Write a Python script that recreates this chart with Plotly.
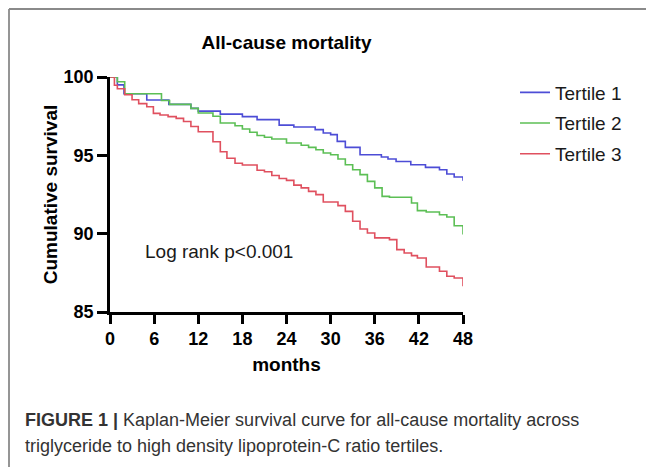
import plotly.graph_objects as go

# ---- data ----
months_ticks = [0, 6, 12, 18, 24, 30, 36, 42, 48]
surv_ticks = [85, 90, 95, 100]

t1_time = [0, 1.0, 1.9, 5.0, 8.0, 11.0, 12.0, 15.0, 18.0, 20.0, 23.0, 25.0, 27.9, 29.0,
           30.0, 30.9, 32.0, 34.0, 36.9, 37.8, 38.9, 40.9, 42.9, 44.8, 45.8, 46.8, 48]
t1_surv = [100, 99.5, 98.93, 98.53, 98.25, 98.0, 97.82, 97.63, 97.47, 97.28, 96.93, 96.81, 96.64, 96.43,
           96.32, 95.89, 95.51, 95.04, 94.89, 94.77, 94.61, 94.40, 94.23, 94.08, 93.81, 93.62, 93.38]

t2_time = [0, 1.0, 2.0, 7.0, 8.1, 11.0, 12.0, 14.0, 15.0, 17.0, 18.0, 19.0, 20.0, 21.0, 22.0,
           24.0, 26.0, 27.0, 28.0, 29.0, 30.0, 31.0, 32.0, 33.0, 34.0, 35.0, 36.0, 37.0, 38.0,
           41.0, 41.8, 43.0, 44.8, 45.8, 46.8, 48]
t2_surv = [100, 99.7, 98.93, 98.5, 98.25, 98.0, 97.7, 97.49, 97.06, 96.89, 96.68, 96.47, 96.27, 96.15, 96.04,
           95.79, 95.64, 95.51, 95.36, 95.15, 95.04, 94.77, 94.40, 94.08, 93.77, 93.34, 92.92, 92.38, 92.32,
           91.96, 91.47, 91.38, 91.21, 91.06, 90.51, 89.94]

t3_time = [0, 0.6, 1.0, 2.0, 3.0, 3.9, 5.0, 5.9, 6.8, 7.9, 9.0, 10.0, 11.0, 12.0, 14.0, 15.0, 15.9,
           17.0, 18.0, 20.0, 21.0, 22.0, 23.0, 24.0, 25.0, 26.0, 27.0, 28.0, 29.0, 31.0, 32.0, 33.0,
           34.0, 35.0, 36.0, 38.0, 39.0, 40.0, 41.0, 41.8, 43.0, 44.8, 45.8, 46.8, 48]
t3_surv = [100, 99.47, 99.25, 98.87, 98.55, 98.3, 98.1, 97.68, 97.57, 97.47, 97.36, 97.16, 96.84, 96.51,
           95.87, 95.23, 94.81, 94.49, 94.38, 94.05, 93.95, 93.71, 93.52, 93.4, 93.1, 92.92, 92.70, 92.49,
           92.02, 91.79, 91.42, 90.79, 90.30, 90.04, 89.73, 89.62, 88.98, 88.77, 88.60, 88.45, 87.87,
           87.60, 87.28, 87.17, 86.64]

series_names = ["Tertile 1", "Tertile 2", "Tertile 3"]
series_colors = ["#4d4dd6", "#5cbf55", "#e0505f"]

# the page body has an 8px margin, so the figure is drawn 8px in from the window edge
OFF = 8
W, H = 654 - OFF, 467 - OFF
L, T = 110 - OFF, 77 - OFF
pw, ph = 353, 235
R, B = W - L - pw, H - T - ph


def px_to_paper_x(px):
    # px: window pixel coordinate
    return (px - OFF - L) / pw


def px_to_paper_y(py):
    return (T + ph - (py - OFF)) / ph


fig = go.Figure()
for i, (tx, sy) in enumerate([(t1_time, t1_surv), (t2_time, t2_surv), (t3_time, t3_surv)]):
    fig.add_trace(go.Scatter(
        x=tx, y=sy, mode="lines", name=series_names[i], legendgroup=str(i),
        line=dict(color=series_colors[i], width=1.6, shape="hv"),
    ))

axis_font = dict(family="Liberation Sans", size=18, color="black", weight="bold")
title_font = dict(family="Liberation Sans", size=19, color="black", weight="bold")

fig.update_layout(
    width=W, height=H,
    margin=dict(l=L, r=R, t=T, b=B, pad=0),
    paper_bgcolor="white", plot_bgcolor="white",
    showlegend=True,
    title=dict(text="All-cause mortality", x=px_to_paper_x(286.5), xref="paper", xanchor="center",
               y=1 - (42 - OFF) / H, yref="container", yanchor="middle", font=title_font),
    legend=dict(x=px_to_paper_x(515), y=px_to_paper_y(73.5), xanchor="left", yanchor="top",
                font=dict(family="Liberation Sans", size=19, color="#1a1a1a"),
                tracegroupgap=3, bgcolor="rgba(0,0,0,0)", borderwidth=0),
    xaxis=dict(range=[0, 48], tickvals=months_ticks, ticktext=[str(v) for v in months_ticks],
               showline=True, linecolor="black", linewidth=2.5, ticks="outside", ticklen=9,
               tickwidth=2.5, tickcolor="black", showgrid=False, zeroline=False, tickfont=axis_font,
               title=dict(text="months", font=title_font, standoff=10), automargin=False),
    yaxis=dict(range=[85, 100], tickvals=surv_ticks, ticktext=[str(v) for v in surv_ticks],
               showline=True, linecolor="black", linewidth=2.5, ticks="outside", ticklen=10,
               tickwidth=2.5, tickcolor="black", showgrid=False, zeroline=False, tickfont=axis_font,
               title=dict(text="Cumulative survival", font=title_font, standoff=1), automargin=False),
)

fig.add_annotation(x=4.5, y=88.85, xref="x", yref="y", text="Log rank p<0.001", showarrow=False,
                   xanchor="left", yanchor="middle",
                   font=dict(family="Liberation Sans", size=19, color="#1a1a1a"))

cap_font = dict(family="Liberation Sans", size=18, color="#333333")
fig.add_annotation(x=px_to_paper_x(23), y=px_to_paper_y(420), xref="paper", yref="paper",
                   text="<b>FIGURE 1 |</b> Kaplan-Meier survival curve for all-cause mortality across",
                   showarrow=False, xanchor="left", yanchor="middle", font=cap_font)
fig.add_annotation(x=px_to_paper_x(23), y=px_to_paper_y(446), xref="paper", yref="paper",
                   text="triglyceride to high density lipoprotein-C ratio tertiles.",
                   showarrow=False, xanchor="left", yanchor="middle", font=cap_font)

# figure frame (top and left borders)
frame_color = "#8a8a8a"
fig.add_shape(type="line", xref="paper", yref="paper",
              x0=px_to_paper_x(9), x1=px_to_paper_x(660), y0=px_to_paper_y(9), y1=px_to_paper_y(9),
              line=dict(color=frame_color, width=1.8))
fig.add_shape(type="line", xref="paper", yref="paper",
              x0=px_to_paper_x(9), x1=px_to_paper_x(9), y0=px_to_paper_y(9), y1=px_to_paper_y(470),
              line=dict(color=frame_color, width=1.8))

fig.write_html("out.html")
